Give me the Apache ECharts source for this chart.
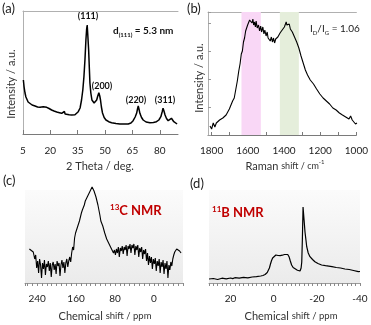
<!DOCTYPE html>
<html>
<head>
<meta charset="utf-8">
<script src="https://cdn.jsdelivr.net/npm/echarts@6/dist/echarts.min.js"></script>
<style>
  html, body { margin: 0; padding: 0; background: #fff; }
  #chart { width: 371px; height: 325px; }
</style>
</head>
<body>
<div id="chart"></div>
<script>
// (a) XRD pattern: 2-theta (deg) and intensity (a.u.)
const xrdTheta = [5.2, 5.6, 6.1, 6.6, 7.0, 7.8, 8.8, 10, 11.6, 13, 14.3, 15.2, 16.1, 17, 18, 19.3, 20.7, 22, 23.5, 25, 26.2, 27.2, 27.7, 28.1, 28.9, 30.3, 31.7, 32.6, 33.5, 34.5, 35.3, 36.3, 37.1, 37.8, 38.4, 39.0, 39.5, 39.9, 40.2, 40.5, 41.0, 41.4, 41.7, 42.2, 42.8, 43.4, 44.0, 44.7, 45.4, 46.0, 46.6, 47.1, 47.5, 48.0, 48.6, 49.5, 50.5, 52, 53.6, 56, 58.1, 60.5, 62.7, 64.2, 65.4, 66.5, 67.3, 67.8, 68.2, 68.6, 69.1, 70, 70.9, 72.5, 74.6, 76.5, 78.2, 79.5, 80.6, 81.3, 81.8, 82.3, 82.9, 83.7, 84.6, 85.5, 86.4, 87.0, 87.7, 88.5, 89.5];
const xrdIntensity = [54, 47, 41, 37, 35, 32, 30, 29, 28, 27, 26.7, 27.5, 27.3, 27.5, 26.7, 25.5, 24, 23, 22, 21.3, 20.7, 20.5, 22.5, 20, 19.3, 19.2, 19, 19.4, 19.3, 20.2, 22.3, 26, 34, 44, 57, 75, 94, 105, 109, 100, 84, 65, 51, 41, 34, 32, 31, 32, 34, 38, 41.3, 38, 34, 27, 21, 16.5, 14, 12.3, 11.3, 10.5, 10, 10, 10, 11, 13.3, 17, 20.7, 25, 28, 25, 20.7, 16.5, 14, 12, 11.3, 11.6, 12.3, 14, 17.3, 22, 25.7, 23, 19, 15.5, 13.3, 14.5, 15.7, 14, 12.3, 11, 10];
const xrdTicks = [5, 20, 35, 50, 65, 80];

// (b) Raman spectrum: shift (cm-1) and intensity (a.u.)
const ramanShift = [1809, 1800, 1791, 1782, 1774, 1765, 1756, 1747, 1738, 1729, 1720, 1711, 1702, 1693, 1684, 1675, 1666, 1658, 1650, 1643, 1636, 1630, 1624, 1618, 1612, 1607, 1601, 1595, 1590, 1586, 1581, 1577, 1572, 1568, 1563, 1558, 1554, 1548, 1541, 1535, 1529, 1524, 1517, 1511, 1506, 1499, 1493, 1488, 1481, 1476, 1470, 1464, 1458, 1452, 1446, 1440, 1434, 1428, 1422, 1416, 1410, 1404, 1398, 1393, 1388, 1384, 1379, 1375, 1371, 1365, 1360, 1354, 1348, 1342, 1336, 1330, 1324, 1318, 1312, 1306, 1300, 1294, 1288, 1282, 1276, 1270, 1264, 1255, 1246, 1237, 1228, 1220, 1211, 1202, 1193, 1184, 1175, 1166, 1157, 1148, 1139, 1130, 1121, 1112, 1103, 1094, 1085, 1077, 1068, 1059, 1050, 1041, 1032, 1023, 1014, 1005, 997];
const ramanIntensity = [9, 6, 12, 8, 12, 13, 15, 14, 17, 15, 20, 21, 26, 27, 34, 37, 46, 54, 64, 71, 81, 84, 93, 97, 104, 106, 110, 111, 115, 113, 117, 112, 116, 110, 113, 108, 114, 107, 110, 104, 109, 103, 108, 101, 105, 99, 103, 97, 99, 94, 98, 93, 97, 92, 96, 95, 98, 97, 102, 100, 105, 103, 108, 107, 113, 110, 112, 108, 111, 106, 108, 103, 105, 98, 99, 93, 94, 87, 87, 79, 78, 72, 71, 65, 66, 60, 60, 55, 55, 51, 50, 46, 46, 41, 42, 37, 39, 34, 35, 31, 32, 27, 29, 25, 26, 22, 24, 20, 22, 18, 20, 16, 19, 15, 15, 11, 12];
const ramanTicks = [1800, 1600, 1400, 1200, 1000];
const ramanMinorTicks = [1800, 1700, 1600, 1500, 1400, 1300, 1200, 1100, 1000];
const dBand = [1528, 1635];
const gBand = [1318, 1423];

// (c) 13C NMR: chemical shift (ppm) and intensity
const carbonShift = [256, 252, 248, 245, 243, 241, 239, 237, 235, 233, 231, 229, 227, 225, 223, 221, 219, 217, 215, 213, 211, 209, 207, 205, 203, 201, 199, 197, 195, 193, 191, 189, 187, 185, 183, 181, 179, 177, 175, 173, 171, 169, 167, 165, 163, 161, 159, 157, 155, 153, 151, 149, 147, 145, 143, 141, 139, 137, 135, 133, 131, 129, 127, 125, 123, 121, 119, 117, 115, 113, 111, 109, 107, 105, 103, 101, 99, 97, 95, 93, 91, 89, 87, 85, 83, 81, 79, 77, 75, 73, 71, 69, 67, 65, 63, 61, 59, 57, 55, 53, 51, 49, 47, 45, 43, 41, 39, 37, 35, 33, 31, 29, 27, 25, 23, 21, 19, 17, 15, 13, 11, 9, 7, 5, 3, 1, -1, -3, -5, -7, -9, -11, -13, -15, -17, -19, -21, -23, -25, -27, -29, -31, -33, -35, -37, -39, -41, -43, -45, -47, -50, -53, -56];
const carbonIntensity = [34, 33, 31, 24, 28, 15, 22, 10, 24, 18, 5, 20, 14, 23, 8, 19, 16, 22, 12, 20, 6, 18, 21, 13, 19, 9, 22, 17, 20, 7, 18, 23, 15, 21, 10, 20, 24, 16, 22, 26, 21, 30, 36, 33, 45, 50, 48, 56, 58, 62, 64, 70, 73, 72, 78, 82, 80, 86, 85, 88, 92, 90, 96, 97, 92, 89, 86, 88, 78, 80, 68, 62, 64, 57, 55, 50, 52, 44, 46, 40, 38, 42, 34, 36, 30, 33, 28, 34, 30, 36, 26, 35, 32, 37, 29, 36, 33, 38, 27, 37, 34, 39, 30, 38, 35, 39, 28, 37, 33, 38, 26, 35, 31, 36, 24, 33, 29, 34, 22, 30, 18, 27, 20, 26, 14, 24, 19, 25, 12, 22, 17, 24, 10, 21, 16, 23, 9, 20, 14, 22, 5, 18, 13, 21, 17, 24, 28, 31, 33, 34, 34, 32, 30];
const carbonTicks = [240, 160, 80, 0];

// (d) 11B NMR: chemical shift (ppm) and intensity
const boronShift = [30, 28, 26, 24, 22, 20, 19, 18, 16, 14, 12, 10, 8, 6, 5, 4, 3, 2.5, 2, 1.5, 1, 0.5, 0, -1, -2, -3, -4, -5, -5.8, -6.5, -7.1, -7.7, -8.3, -9, -9.9, -11, -12.2, -12.7, -13, -13.3, -13.6, -14, -14.5, -15, -15.3, -16, -16.8, -18, -19.1, -20.5, -22.2, -24, -25.5, -27, -29, -31, -33, -35, -37, -39.2, -40];
const boronIntensity = [4, 4.5, 3.5, 4.8, 4.2, 5, 4.4, 5.3, 4.8, 5.6, 5.2, 6, 6.3, 7, 7.5, 8.5, 10.5, 12, 15, 19, 22.5, 25, 26.5, 28, 27.5, 27.3, 27.8, 28.5, 29.7, 28.5, 26.3, 22, 18, 15.5, 14, 12.8, 12, 15, 21, 45, 76, 65, 51, 42, 36.3, 30, 26.3, 23.5, 21.3, 19.5, 18, 17.3, 16.8, 16.3, 15.5, 15, 14, 13.5, 12.5, 11.3, 11.5];
const boronTicks = [20, 0, -20, -40];

const zip = (xs, ys) => xs.map((x, i) => [x, ys[i]]);

const FONT = 'Lato, "Open Sans", sans-serif';
const tickLabel = { color: '#222', fontSize: 10, fontFamily: FONT };

function hiddenTopAxis(gridIndex, min, max, inverse) {
  return {
    gridIndex, type: 'value', position: 'top', min, max, inverse,
    axisLine: { show: true, lineStyle: { color: '#b0b0b0', width: 1 } },
    axisTick: { show: false }, axisLabel: { show: false }, splitLine: { show: false }
  };
}

const nmrBg = {
  type: 'linear', x: 0, y: 0, x2: 0, y2: 1,
  colorStops: [{ offset: 0, color: '#fbfbfb' }, { offset: 1, color: '#ebebeb' }]
};

const lineSeries = (xi, data, width, extra) => Object.assign({
  type: 'line', xAxisIndex: xi, yAxisIndex: xi, data,
  showSymbol: false, symbol: 'none', silent: true,
  lineStyle: { color: '#000', width: width }
}, extra || {});

const option = {
  animation: false,
  backgroundColor: '#fff',
  grid: [
    { left: 23, top: 11, width: 155, height: 123 },
    { left: 208, top: 12, width: 153, height: 123 },
    { left: 25, top: 190, width: 158, height: 93, show: true, backgroundColor: nmrBg, borderWidth: 0 },
    { left: 209, top: 190, width: 151, height: 93, show: true, backgroundColor: nmrBg, borderWidth: 0 }
  ],
  xAxis: [
    {
      gridIndex: 0, type: 'value', min: 5, max: 90,
      axisLine: { lineStyle: { color: '#7a7a7a', width: 1 } },
      axisTick: { inside: true, length: 4, lineStyle: { color: '#7a7a7a' }, customValues: xrdTicks },
      axisLabel: Object.assign({ margin: 12, customValues: xrdTicks, formatter: v => String(v) }, tickLabel),
      splitLine: { show: false }
    },
    {
      gridIndex: 1, type: 'value', min: 1000, max: 1820, inverse: true,
      axisLine: { lineStyle: { color: '#7a7a7a', width: 1 } },
      axisTick: { inside: true, length: 3, lineStyle: { color: '#7a7a7a' }, customValues: ramanMinorTicks },
      axisLabel: Object.assign({ margin: 11, customValues: ramanTicks, formatter: v => String(v) }, tickLabel),
      splitLine: { show: false }
    },
    {
      gridIndex: 2, type: 'value', min: -60, max: 265, interval: 10, inverse: true,
      axisLine: { lineStyle: { color: '#9a9a9a', width: 1 } },
      axisTick: { show: true, length: 3, lineStyle: { color: '#8a8a8a' } },
      axisLabel: Object.assign({ margin: 11, showMinLabel: true, showMaxLabel: true,
        formatter: v => carbonTicks.includes(v) ? String(v) : '' }, tickLabel),
      splitLine: { show: false }
    },
    {
      gridIndex: 3, type: 'value', min: -40, max: 30, interval: 2, inverse: true,
      axisLine: { lineStyle: { color: '#9a9a9a', width: 1 } },
      axisTick: { show: true, length: 3, lineStyle: { color: '#8a8a8a' } },
      axisLabel: Object.assign({ margin: 11, showMinLabel: true, showMaxLabel: true,
        formatter: v => boronTicks.includes(v) ? String(v) : '' }, tickLabel),
      splitLine: { show: false }
    },
    hiddenTopAxis(0, 5, 90, false),
    hiddenTopAxis(1, 1000, 1820, true)
  ],
  yAxis: [
    {
      gridIndex: 0, type: 'value', min: 0, max: 123,
      axisLine: { show: true, lineStyle: { color: '#b0b0b0' } },
      axisTick: { show: false }, axisLabel: { show: false }, splitLine: { show: false }
    },
    {
      gridIndex: 1, type: 'value', min: 0, max: 123, interval: 28,
      axisLine: { show: true, lineStyle: { color: '#b0b0b0' } },
      axisTick: { show: true, inside: true, length: 3, lineStyle: { color: '#9a9a9a' } },
      axisLabel: { show: false }, splitLine: { show: false }
    },
    { gridIndex: 2, type: 'value', min: 0, max: 93, show: false },
    { gridIndex: 3, type: 'value', min: 0, max: 93, show: false }
  ],
  series: [
    lineSeries(0, zip(xrdTheta, xrdIntensity), 1.5),
    lineSeries(1, zip(ramanShift, ramanIntensity), 1.1, {
      markArea: {
        silent: true,
        data: [
          [{ xAxis: dBand[0], itemStyle: { color: '#f9d7f6' } }, { xAxis: dBand[1] }],
          [{ xAxis: gBand[0], itemStyle: { color: '#e5eedb' } }, { xAxis: gBand[1] }]
        ]
      }
    }),
    lineSeries(2, zip(carbonShift, carbonIntensity), 1.1, { clip: false }),
    lineSeries(3, zip(boronShift, boronIntensity), 1.2, { clip: false })
  ],
  graphic: [
    // panel letters
    { type: 'text', x: 2, y: 2, style: { text: '(a)', font: '13px ' + FONT, fill: '#222' } },
    { type: 'text', x: 187, y: 2, style: { text: '(b)', font: '13px ' + FONT, fill: '#222' } },
    { type: 'text', x: 3, y: 174, style: { text: '(c)', font: '13px ' + FONT, fill: '#222' } },
    { type: 'text', x: 190, y: 177, style: { text: '(d)', font: '13px ' + FONT, fill: '#222' } },

    // (a) annotations
    { type: 'text', x: 88, y: 16, style: { text: '(111)', font: 'bold 9px ' + FONT, fill: '#111', align: 'center', verticalAlign: 'middle' } },
    { type: 'text', x: 102, y: 86, style: { text: '(200)', font: 'bold 9px ' + FONT, fill: '#111', align: 'center', verticalAlign: 'middle' } },
    { type: 'text', x: 136, y: 100, style: { text: '(220)', font: 'bold 9px ' + FONT, fill: '#111', align: 'center', verticalAlign: 'middle' } },
    { type: 'text', x: 165, y: 100, style: { text: '(311)', font: 'bold 9px ' + FONT, fill: '#111', align: 'center', verticalAlign: 'middle' } },
    { type: 'text', x: 113, y: 24, style: {
        text: '{m|d}{s|(111)}{m| = 5.3 nm}', fill: '#111',
        rich: {
          m: { fontSize: 10, fontWeight: 'bold', fontFamily: FONT, lineHeight: 14, verticalAlign: 'middle' },
          s: { fontSize: 6, fontWeight: 'bold', fontFamily: FONT, lineHeight: 8, verticalAlign: 'bottom' }
        } } },
    { type: 'text', x: 11, y: 84, rotation: Math.PI / 2, style: { text: 'Intensity / a.u.', font: '11px ' + FONT, fill: '#333', align: 'center', verticalAlign: 'middle' } },
    { type: 'text', x: 100, y: 166, style: { text: '2 Theta / deg.', font: '11px ' + FONT, fill: '#333', align: 'center', verticalAlign: 'middle' } },

    // (b) annotations
    { type: 'text', x: 310, y: 22, style: {
        text: '{m|I}{s|D}{m|/I}{s|G}{m| = 1.06}', fill: '#222',
        rich: {
          m: { fontSize: 10, fontFamily: FONT, lineHeight: 14, verticalAlign: 'middle' },
          s: { fontSize: 6, fontFamily: FONT, lineHeight: 8, verticalAlign: 'bottom' }
        } } },
    { type: 'text', x: 253, y: 83, rotation: Math.PI / 2, style: { text: 'D band', font: 'bold 10px ' + FONT, fill: '#222', align: 'center', verticalAlign: 'middle' } },
    { type: 'text', x: 292, y: 83, rotation: Math.PI / 2, style: { text: 'G band', font: 'bold 10px ' + FONT, fill: '#222', align: 'center', verticalAlign: 'middle' } },
    { type: 'text', x: 199, y: 78, rotation: Math.PI / 2, style: { text: 'Intensity / a.u.', font: '11px ' + FONT, fill: '#333', align: 'center', verticalAlign: 'middle' } },
    { type: 'text', x: 285, y: 166, style: {
        text: '{b|Raman }{t|shift / cm}{u|-1}', fill: '#333', align: 'center', verticalAlign: 'middle',
        rich: {
          b: { fontSize: 11, fontFamily: FONT, lineHeight: 14, verticalAlign: 'middle' },
          t: { fontSize: 9, fontFamily: FONT, lineHeight: 12, verticalAlign: 'middle' },
          u: { fontSize: 6, fontFamily: FONT, lineHeight: 8, verticalAlign: 'top' }
        } } },

    // (c) annotations
    { type: 'text', x: 110, y: 203, style: {
        text: '{u|13}{b|C NMR}', fill: '#c00000',
        rich: {
          u: { fontSize: 8, fontWeight: 'bold', fontFamily: FONT, lineHeight: 9, verticalAlign: 'top' },
          b: { fontSize: 13, fontWeight: 'bold', fontFamily: FONT, lineHeight: 15, verticalAlign: 'middle' }
        } } },
    { type: 'text', x: 105, y: 316, style: {
        text: '{b|Chemical }{t|shift / ppm}', fill: '#333', align: 'center', verticalAlign: 'middle',
        rich: {
          b: { fontSize: 11, fontFamily: FONT, lineHeight: 14, verticalAlign: 'middle' },
          t: { fontSize: 9.5, fontFamily: FONT, lineHeight: 12, verticalAlign: 'middle' }
        } } },

    // (d) annotations
    { type: 'text', x: 212, y: 205, style: {
        text: '{u|11}{b|B NMR}', fill: '#c00000',
        rich: {
          u: { fontSize: 8, fontWeight: 'bold', fontFamily: FONT, lineHeight: 9, verticalAlign: 'top' },
          b: { fontSize: 13, fontWeight: 'bold', fontFamily: FONT, lineHeight: 15, verticalAlign: 'middle' }
        } } },
    { type: 'text', x: 291, y: 316, style: {
        text: '{b|Chemical }{t|shift / ppm}', fill: '#333', align: 'center', verticalAlign: 'middle',
        rich: {
          b: { fontSize: 11, fontFamily: FONT, lineHeight: 14, verticalAlign: 'middle' },
          t: { fontSize: 9.5, fontFamily: FONT, lineHeight: 12, verticalAlign: 'middle' }
        } } }
  ]
};

const chart = echarts.init(document.getElementById('chart'), null, { renderer: 'canvas' });
chart.setOption(option);
</script>
</body>
</html>
